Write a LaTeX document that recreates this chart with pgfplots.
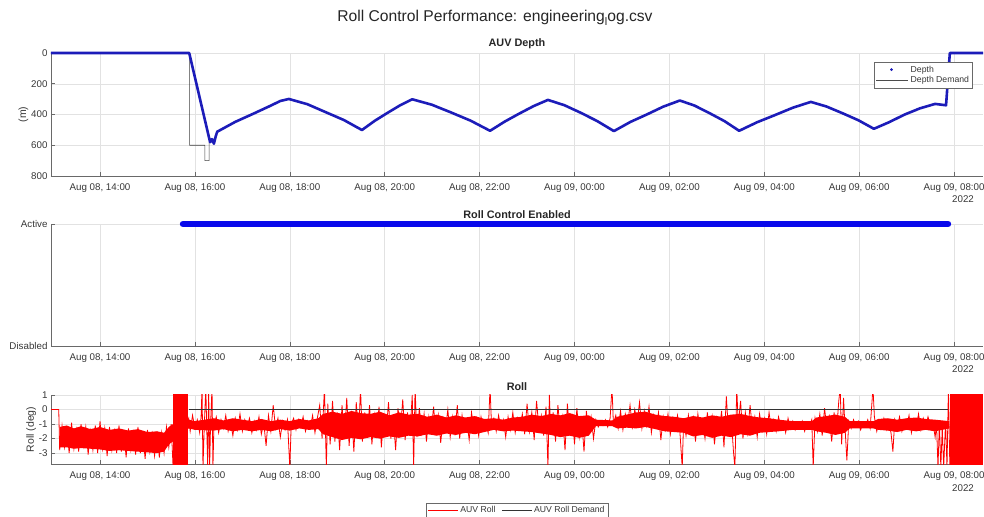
\documentclass[border=0pt]{standalone}
\usepackage{fontspec}
\setmainfont{Liberation Sans}
\usepackage{pgfplots}
\pgfplotsset{compat=1.18}

\definecolor{depthblue}{RGB}{28,28,185}
\definecolor{enblue}{RGB}{8,8,235}
\definecolor{axgray}{RGB}{105,105,105}
\definecolor{txtgray}{RGB}{55,55,55}
\definecolor{gridgray}{RGB}{226,226,226}

\pgfplotsset{
  matlab/.style={
    scale only axis, width=932bp, anchor=south west,
    xmin=12.967, xmax=32.609,
    axis x line=bottom, axis y line=left,
    axis line style={-, axgray, line width=0.6bp},
    tick align=inside, major tick length=4bp,
    tick style={axgray, line width=0.6bp},
    grid=major, grid style={gridgray, line width=0.5bp},
    xtick={14,16,...,32},
    xticklabels={{Aug 08, 14:00},{Aug 08, 16:00},{Aug 08, 18:00},{Aug 08, 20:00},{Aug 08, 22:00},
                 {Aug 09, 00:00},{Aug 09, 02:00},{Aug 09, 04:00},{Aug 09, 06:00},{Aug 09, 08:00}},
    tick label style={font=\fontsize{9.8}{11}\selectfont, text=txtgray},
    xticklabel style={yshift=-4bp},
    label style={font=\fontsize{10.5}{12}\selectfont, text=txtgray},
    ylabel shift=-4bp,
    /pgf/number format/assume math mode=true,
    legend style={draw=axgray, line width=0.5bp, font=\fontsize{8.7}{10}\selectfont, text=txtgray,
                  inner sep=1.5bp, row sep=-1bp},
    legend cell align=left,
  }
}

\begin{document}
\begin{tikzpicture}
\useasboundingbox (0,0) rectangle (984bp,517bp);

% ---------------- AUV Depth ----------------
\begin{axis}[matlab, at={(51bp,341bp)}, height=123bp,
    ymin=0, ymax=800, y dir=reverse, ytick={0,200,...,800},
    ylabel={(m)}, clip=false,
    legend style={at={(0.989,0.927)}, anchor=north east}]
  % depth demand
  \addplot[black!75, line width=0.6bp, forget plot] coordinates {
    (12.967,0)(15.89,0)(15.89,600)(16.21,600)(16.21,700)(16.30,700)(16.30,580)
    (16.36,560)(16.40,590)(16.44,540)(16.47,512)
    (16.85,448)(17.23,395)(17.60,342)(17.80,312)(17.98,299)
    (18.37,333)(18.75,384)(19.14,436)(19.52,501)
    (19.79,441)(20.05,391)(20.32,341)(20.58,301)
    (20.99,336)(21.40,387)(21.81,440)(22.22,506)
    (22.53,446)(22.83,395)(23.14,345)(23.44,305)
    (23.79,340)(24.14,390)(24.48,443)(24.83,508)
    (25.18,448)(25.53,399)(25.87,349)(26.22,309)
    (26.53,342)(26.85,392)(27.16,443)(27.47,506)
    (27.85,450)(28.23,403)(28.60,356)(28.98,318)
    (29.31,348)(29.65,392)(29.98,437)(30.31,493)
    (30.63,450)(30.96,400)(31.28,360)(31.60,331)(31.83,340)
    (31.91,0)(32.609,0)};
  % depth
  \addplot[depthblue, line width=2.6bp, line join=round, forget plot] coordinates {
    (12.967,0)(15.88,0)(16.32,580)(16.36,560)(16.40,590)(16.44,540)(16.47,512)
    (16.85,448)(17.23,395)(17.60,342)(17.80,312)(17.98,299)
    (18.37,333)(18.75,384)(19.14,436)(19.52,501)
    (19.79,441)(20.05,391)(20.32,341)(20.58,301)
    (20.99,336)(21.40,387)(21.81,440)(22.22,506)
    (22.53,446)(22.83,395)(23.14,345)(23.44,305)
    (23.79,340)(24.14,390)(24.48,443)(24.83,508)
    (25.18,448)(25.53,399)(25.87,349)(26.22,309)
    (26.53,342)(26.85,392)(27.16,443)(27.47,506)
    (27.85,450)(28.23,403)(28.60,356)(28.98,318)
    (29.31,348)(29.65,392)(29.98,437)(30.31,493)
    (30.63,450)(30.96,400)(31.28,360)(31.60,331)(31.83,340)
    (31.91,0)(32.609,0)};
  \addlegendimage{legend image code/.code={\fill[depthblue] (15bp,0bp) circle (1.1bp);}}
  \addlegendentry{Depth}
  \addlegendimage{legend image code/.code={\draw[black!70, line width=0.5bp] (0bp,0bp) -- (32bp,0bp);}}
  \addlegendentry{Depth Demand}
\end{axis}

% ---------------- Roll Control Enabled ----------------
\begin{axis}[matlab, at={(51bp,171bp)}, height=122bp,
    ymin=0, ymax=1, ytick={0,1}, yticklabels={Disabled,Active}, clip=false]
  \addplot[enblue, line width=6.5bp, line cap=round] coordinates {(15.75,1)(31.87,1)};
\end{axis}

% ---------------- Roll ----------------
\begin{axis}[matlab, at={(51bp,53bp)}, height=69bp,
    ymin=-3.75, ymax=1, ytick={-3,-2,...,1}, ylabel={Roll (deg)},
    legend columns=2,
    legend style={at={(0.5,-0.56)}, anchor=north, /tikz/every even column/.append style={column sep=4bp}},
    legend image code/.code={\draw[#1] (0bp,0bp) -- (30bp,0bp);}]
  % dense core of the roll signal
  \addplot[fill=red, draw=none, forget plot] coordinates {
    (13.15,-1.2)(13.3,-1.1)(13.45,-1.3)(13.6,-1.15)(13.8,-1.35)(14.0,-1.2)(14.2,-1.4)(14.4,-1.3)
    (14.6,-1.45)(14.8,-1.35)(15.0,-1.55)(15.2,-1.5)(15.35,-1.6)(15.45,-1.2)(15.54,-1.0)
    (15.87,-0.7)(16.0,-0.8)(16.4,-0.6)(16.6,-0.75)(16.8,-0.6)(17.0,-0.7)(17.2,-0.8)(17.4,-0.65)
    (17.6,-0.8)(17.8,-0.7)(18.0,-0.8)(18.2,-0.65)(18.4,-0.75)(18.6,-0.6)(18.7,-0.3)(18.9,-0.15)
    (19.1,-0.3)(19.3,-0.1)(19.5,-0.25)(19.7,-0.3)(19.9,-0.15)(20.1,-0.4)(20.3,-0.2)(20.5,-0.35)
    (20.7,-0.3)(20.9,-0.5)(21.1,-0.35)(21.3,-0.55)(21.5,-0.4)(21.7,-0.55)(21.9,-0.45)(22.1,-0.65)
    (22.3,-0.6)(22.5,-0.7)(22.7,-0.55)(22.9,-0.5)(23.1,-0.35)(23.3,-0.45)(23.5,-0.3)(23.7,-0.4)
    (23.9,-0.25)(24.1,-0.45)(24.3,-0.4)(24.45,-0.7)(24.8,-0.75)(24.9,-0.5)(25.1,-0.35)(25.3,-0.2)
    (25.5,-0.15)(25.7,-0.35)(25.9,-0.45)(26.1,-0.5)(26.3,-0.6)(26.5,-0.45)(26.7,-0.55)(26.9,-0.4)
    (27.1,-0.5)(27.3,-0.35)(27.5,-0.3)(27.7,-0.45)(27.9,-0.55)(28.1,-0.6)(28.3,-0.7)(28.6,-0.8)
    (29.0,-0.8)(29.1,-0.55)(29.3,-0.45)(29.5,-0.35)(29.7,-0.5)(29.8,-0.8)(30.3,-0.8)(30.4,-0.65)
    (30.6,-0.6)(30.8,-0.7)(31.0,-0.6)(31.2,-0.55)(31.4,-0.65)(31.6,-0.7)(31.9,-0.8)
    (31.9,-1.3)(31.6,-1.5)(31.4,-1.4)(31.2,-1.5)(31.0,-1.4)(30.8,-1.55)(30.6,-1.45)(30.4,-1.4)
    (30.3,-1.3)(29.8,-1.3)(29.7,-1.6)(29.5,-1.75)(29.3,-1.6)(29.1,-1.5)(29.0,-1.4)(28.6,-1.4)
    (28.3,-1.5)(28.1,-1.55)(27.9,-1.6)(27.7,-1.8)(27.5,-1.7)(27.3,-1.9)(27.1,-1.8)(26.9,-1.95)
    (26.7,-1.75)(26.5,-1.85)(26.3,-1.6)(26.1,-1.55)(25.9,-1.5)(25.7,-1.35)(25.5,-1.2)(25.3,-1.3)
    (25.1,-1.25)(24.9,-1.3)(24.8,-1.15)(24.45,-1.15)(24.3,-1.8)(24.1,-1.95)(23.9,-1.8)(23.7,-1.9)
    (23.5,-1.75)(23.3,-1.65)(23.1,-1.55)(22.9,-1.5)(22.7,-1.45)(22.5,-1.5)(22.3,-1.4)(22.1,-1.55)
    (21.9,-1.7)(21.7,-1.6)(21.5,-1.75)(21.3,-1.65)(21.1,-1.8)(20.9,-1.7)(20.7,-1.85)(20.5,-1.8)
    (20.3,-1.95)(20.1,-1.85)(19.9,-2.0)(19.7,-1.9)(19.5,-2.05)(19.3,-1.95)(19.1,-2.1)(18.9,-1.9)
    (18.7,-1.7)(18.6,-1.35)(18.4,-1.4)(18.2,-1.3)(18.0,-1.45)(17.8,-1.35)(17.6,-1.5)(17.4,-1.4)
    (17.2,-1.5)(17.0,-1.4)(16.8,-1.5)(16.6,-1.35)(16.4,-1.45)(16.0,-1.4)(15.87,-1.3)(15.54,-2.2)
    (15.45,-2.4)(15.35,-2.9)(15.2,-3.0)(15.0,-2.95)(14.8,-2.9)(14.6,-2.85)(14.4,-2.8)(14.2,-2.85)
    (14.0,-2.75)(13.8,-2.7)(13.6,-2.65)(13.45,-2.7)(13.3,-2.6)(13.15,-2.6)} --cycle;
  % saturated stretches
  \addplot[fill=red, draw=none, forget plot] coordinates {(15.54,-4)(15.54,1.5)(15.86,1.5)(15.86,-4)} --cycle;
  \addplot[fill=red, draw=none, forget plot] coordinates {(31.91,-4)(31.91,1.5)(32.609,1.5)(32.609,-4)} --cycle;
  % roll signal
  \addplot[red, line width=0.8bp] coordinates {
    (12.967,0)(13.13,0)(13.15,-2.8)(13.20,-1.1)(13.25,-2.6)(13.30,-1.3)(13.35,-3.0)(13.40,-0.9)
    (13.45,-2.7)(13.50,-1.4)(13.55,-2.9)(13.60,-1.0)(13.65,-2.5)(13.70,-1.2)(13.75,-3.1)(13.80,-1.5)
    (13.85,-2.8)(13.90,-1.1)(13.95,-3.0)(14.00,-0.8)(14.05,-2.7)(14.10,-1.3)(14.15,-3.2)(14.20,-1.2)
    (14.25,-2.8)(14.30,-1.5)(14.35,-3.0)(14.40,-1.1)(14.45,-2.9)(14.50,-1.4)(14.55,-3.3)(14.60,-1.3)
    (14.65,-2.8)(14.70,-1.6)(14.75,-3.1)(14.80,-1.2)(14.85,-3.0)(14.90,-1.5)(14.95,-3.4)(15.00,-1.4)
    (15.05,-2.9)(15.10,-1.7)(15.15,-3.2)(15.20,-1.5)(15.25,-3.3)(15.30,-1.6)(15.35,-3.0)(15.40,-1.2)
    (15.45,-2.6)(15.50,-1.0)(15.54,-4.0)(15.87,-0.6)(15.90,-1.5)(15.95,-0.4)(16.00,-1.3)(16.05,-0.7)
    (16.10,-1.6)(16.13,-0.5)(16.15,1.5)(16.17,-4.0)(16.20,-0.9)(16.23,1.5)(16.25,-1.4)(16.27,-4.0)
    (16.29,1.5)(16.31,-4.0)(16.33,-1.0)(16.36,1.5)(16.38,-4.0)(16.40,-1.1)(16.45,-0.5)(16.50,-1.6)
    (16.55,-0.7)(16.60,-1.3)(16.65,-0.4)(16.70,-1.5)(16.75,-0.8)(16.80,-1.8)(16.85,-0.6)(16.90,-1.4)
    (16.95,-0.3)(17.00,-1.5)(17.05,-0.7)(17.10,-1.2)(17.15,-0.6)(17.20,-1.6)(17.25,-0.8)(17.30,-1.4)
    (17.35,-0.5)(17.40,-1.7)(17.45,-0.9)(17.50,-2.5)(17.55,-0.4)(17.60,-1.5)(17.65,0.3)(17.70,-1.3)
    (17.75,-0.6)(17.80,-1.9)(17.85,-0.8)(17.90,-1.4)(17.95,-0.7)(18.00,-4.0)(18.03,-1.0)(18.08,-0.6)
    (18.13,-1.4)(18.18,-0.7)(18.23,-1.2)(18.28,-0.5)(18.33,-1.5)(18.38,-0.8)(18.43,-1.3)(18.48,-0.4)
    (18.53,-1.6)(18.58,-0.6)(18.63,0.3)(18.68,-2.0)(18.73,1.5)(18.77,-4.0)(18.80,0.4)(18.85,-2.4)
    (18.90,0.6)(18.95,-2.2)(19.00,-0.2)(19.05,-2.8)(19.10,0.3)(19.15,-1.9)(19.20,0.8)(19.25,-2.5)
    (19.30,-0.1)(19.35,-2.9)(19.40,0.5)(19.45,-1.8)(19.49,1.5)(19.53,-2.2)(19.58,-0.2)(19.63,-1.9)
    (19.68,0.3)(19.73,-2.4)(19.78,-0.4)(19.83,-1.7)(19.88,0.2)(19.93,-2.6)(19.98,-0.3)(20.03,-1.6)
    (20.08,0.5)(20.13,-2.0)(20.18,-0.5)(20.23,-2.8)(20.28,0.1)(20.33,-1.5)(20.38,0.7)(20.43,-2.1)
    (20.48,-0.2)(20.53,-1.8)(20.58,1.0)(20.61,-4.0)(20.64,1.5)(20.68,-1.9)(20.73,0.1)(20.78,-1.6)
    (20.83,-0.3)(20.88,-2.2)(20.93,-0.5)(20.98,-1.5)(21.03,0.2)(21.08,-1.8)(21.13,-0.4)(21.18,-2.3)
    (21.23,-0.6)(21.28,-1.4)(21.33,0.0)(21.38,-1.9)(21.43,-0.5)(21.48,-1.6)(21.53,0.3)(21.58,-2.0)
    (21.63,-0.4)(21.68,-1.5)(21.73,-0.7)(21.78,-2.1)(21.83,-0.2)(21.88,-1.4)(21.93,-0.6)(21.98,-1.8)
    (22.03,-0.5)(22.08,-1.3)(22.13,-0.8)(22.18,-1.6)(22.22,1.5)(22.25,-1.0)(22.30,-0.6)(22.35,-1.5)
    (22.40,-0.4)(22.45,-1.3)(22.50,-0.7)(22.55,-1.9)(22.60,-0.5)(22.65,-1.4)(22.70,-0.2)(22.75,-1.6)
    (22.80,-0.6)(22.85,-1.2)(22.90,-0.3)(22.95,-1.7)(23.00,0.4)(23.05,-1.5)(23.10,-0.2)(23.15,-2.1)
    (23.20,0.6)(23.25,-1.3)(23.30,-0.4)(23.35,-1.8)(23.40,0.2)(23.44,-4.0)(23.47,1.0)(23.50,-1.6)
    (23.55,-0.2)(23.60,-2.2)(23.65,0.3)(23.70,-1.5)(23.75,-0.5)(23.80,-2.8)(23.85,0.4)(23.90,-1.7)
    (23.95,-0.3)(24.00,-2.4)(24.05,0.1)(24.10,-1.9)(24.15,-0.6)(24.20,-2.9)(24.25,-0.1)(24.30,-1.6)
    (24.35,-0.5)(24.40,-2.0)(24.45,-0.7)(24.50,-1.2)(24.55,-0.8)(24.60,-1.1)(24.65,-0.7)(24.70,-1.2)
    (24.75,-0.6)(24.79,1.5)(24.82,-1.0)(24.87,-0.4)(24.92,-1.3)(24.97,-0.1)(25.02,-1.4)(25.07,-0.3)
    (25.12,-1.0)(25.17,0.3)(25.22,-1.2)(25.27,0.0)(25.32,-0.9)(25.37,0.5)(25.42,-1.3)(25.47,-0.1)
    (25.52,-1.1)(25.57,0.2)(25.62,-1.6)(25.67,-0.4)(25.72,-1.2)(25.77,-0.2)(25.82,-2.1)(25.87,-0.5)
    (25.92,-1.4)(25.97,-0.3)(26.02,-1.7)(26.07,-0.6)(26.12,-1.3)(26.17,-0.4)(26.22,-1.5)(26.27,-4.0)
    (26.30,-0.7)(26.35,-1.8)(26.40,-0.4)(26.45,-1.6)(26.50,-0.6)(26.55,-2.2)(26.60,-0.3)(26.65,-1.5)
    (26.70,-0.8)(26.75,-2.0)(26.80,-0.2)(26.85,-1.7)(26.90,-0.5)(26.95,-2.4)(27.00,-0.6)(27.05,-1.4)
    (27.10,-0.1)(27.15,-2.6)(27.20,0.9)(27.25,-1.8)(27.30,-0.4)(27.35,-2.9)(27.38,-4.0)(27.42,1.5)
    (27.45,-1.1)(27.50,0.6)(27.55,-2.0)(27.60,-0.2)(27.65,-1.6)(27.70,0.3)(27.75,-1.4)(27.80,-0.5)
    (27.85,-1.9)(27.90,-0.3)(27.95,-1.3)(28.00,-0.6)(28.05,-1.7)(28.10,-0.2)(28.15,-1.4)(28.20,-0.7)
    (28.25,-1.5)(28.30,-0.5)(28.35,-1.2)(28.40,-0.8)(28.45,-1.6)(28.50,-0.6)(28.55,-1.3)(28.60,-0.8)
    (28.65,-1.4)(28.70,-0.9)(28.75,-1.3)(28.80,-0.8)(28.85,-1.5)(28.90,-0.9)(28.95,-1.2)(29.00,-0.7)
    (29.03,-4.0)(29.07,-0.6)(29.12,-1.5)(29.17,-0.3)(29.22,-1.8)(29.27,0.1)(29.32,-1.4)(29.37,-0.5)
    (29.42,-2.2)(29.47,-0.2)(29.52,-1.6)(29.57,0.6)(29.60,1.5)(29.63,-2.4)(29.67,0.8)(29.70,-1.2)
    (29.74,-3.5)(29.78,-0.8)(29.83,-1.3)(29.88,-0.7)(29.93,-1.2)(29.98,-0.8)(30.03,-1.4)(30.08,-0.9)
    (30.13,-1.2)(30.18,-0.7)(30.23,-1.3)(30.29,1.5)(30.32,-0.5)(30.37,-1.5)(30.42,-0.8)(30.47,-1.3)
    (30.52,-0.6)(30.57,-1.4)(30.62,-0.9)(30.67,-1.6)(30.71,-2.9)(30.75,-0.7)(30.80,-1.3)(30.85,-0.5)
    (30.90,-1.5)(30.95,-0.8)(31.00,-1.2)(31.05,-0.4)(31.10,-1.6)(31.15,-0.7)(31.20,-1.3)(31.25,-0.3)
    (31.30,-1.4)(31.35,-0.6)(31.40,-1.2)(31.45,-0.5)(31.50,-1.1)(31.55,-0.8)(31.60,-1.9)(31.63,-1.0)
    (31.66,-4.0)(31.69,-0.9)(31.72,-4.0)(31.75,-1.2)(31.78,-4.0)(31.82,-0.8)(31.85,-4.0)(31.88,1.5)
    (31.91,-4.0)};
  \addlegendentry{AUV Roll}
  % roll demand
  \addplot[black!80, line width=0.7bp] coordinates {(15.88,0)(31.87,0)};
  \addlegendentry{AUV Roll Demand}
\end{axis}

% titles
\node[font=\fontsize{15.7}{18}\selectfont, text=black!85] at (495bp,499bp)
  {Roll Control Performance: engineering\raisebox{-0.5ex}{\fontsize{11}{12}\selectfont l}og.csv};
\node[font=\bfseries\fontsize{10.9}{12}\selectfont, text=black!85] at (517bp,473bp) {AUV Depth};
\node[font=\bfseries\fontsize{10.9}{12}\selectfont, text=black!85] at (517bp,302bp) {Roll Control Enabled};
\node[font=\bfseries\fontsize{10.9}{12}\selectfont, text=black!85] at (517bp,130bp) {Roll};
\node[font=\fontsize{9.8}{11}\selectfont, text=txtgray] at (963bp,318bp) {2022};
\node[font=\fontsize{9.8}{11}\selectfont, text=txtgray] at (963bp,148bp) {2022};
\node[font=\fontsize{9.8}{11}\selectfont, text=txtgray] at (963bp,29bp) {2022};
\end{tikzpicture}
\end{document}
